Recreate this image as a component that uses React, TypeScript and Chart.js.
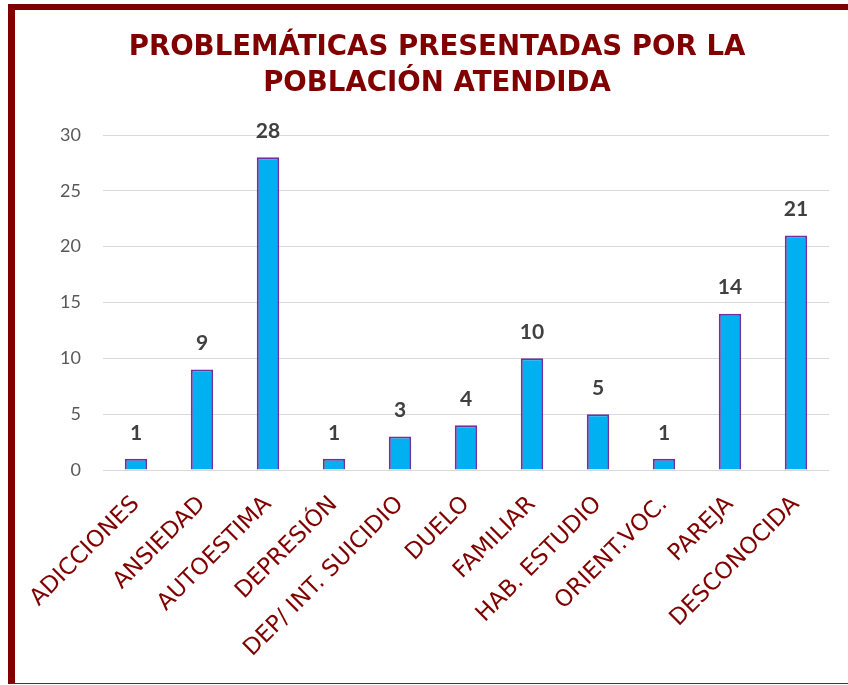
import React, { useEffect, useRef } from "react";
import { Chart, registerables } from "chart.js";

Chart.register(...registerables);

const TITLE_LINES = ["PROBLEMÁTICAS PRESENTADAS POR LA", "POBLACIÓN ATENDIDA"];
const CATEGORIES = [
  "ADICCIONES",
  "ANSIEDAD",
  "AUTOESTIMA",
  "DEPRESIÓN",
  "DEP/ INT. SUICIDIO",
  "DUELO",
  "FAMILIAR",
  "HAB. ESTUDIO",
  "ORIENT.VOC.",
  "PAREJA",
  "DESCONOCIDA",
];
const VALUES = [1, 9, 28, 1, 3, 4, 10, 5, 1, 14, 21];
const Y_MIN = 0;
const Y_MAX = 30;
const Y_STEP = 5;

const DARK_RED = "#800000";

const overlayPlugin = {
  id: "overlay",
  afterDraw(chart: any) {
    const ctx = chart.ctx;
    ctx.save();
    // title
    ctx.fillStyle = DARK_RED;
    ctx.textAlign = "center";
    ctx.textBaseline = "middle";
    ctx.font = "bold 27.6px 'DejaVu Sans'";
    ctx.fillText(TITLE_LINES[0], 437, 48);
    ctx.fillText(TITLE_LINES[1], 437, 84);
    // data labels
    const meta = chart.getDatasetMeta(0);
    ctx.fillStyle = "#404040";
    ctx.font = "bold 21px Lato";
    meta.data.forEach((bar: any, i: number) => {
      ctx.fillText(String(VALUES[i]), bar.x, bar.y - 26);
    });
    ctx.restore();
  },
};

export default function App() {
  const ref = useRef<HTMLCanvasElement | null>(null);
  useEffect(() => {
    if (!ref.current) return;
    const chart = new Chart(ref.current, {
      type: "bar",
      data: {
        labels: CATEGORIES,
        datasets: [
          {
            data: VALUES,
            backgroundColor: "#00B0F0",
            borderColor: "#7030A0",
            borderWidth: 2,
            categoryPercentage: 1,
            barPercentage: 0.34,
          },
        ],
      },
      options: {
        animation: false,
        responsive: false,
        devicePixelRatio: 1,
        layout: { padding: { left: 15, right: 19, top: 135, bottom: 5 } },
        plugins: {
          legend: { display: false },
          title: { display: false },
          tooltip: { enabled: false },
        },
        scales: {
          x: {
            grid: { display: false, drawTicks: false },
            border: { display: false },
            ticks: {
              color: DARK_RED,
              font: { family: "DejaVu Sans", size: 23 },
              minRotation: 45,
              maxRotation: 45,
              padding: 21,
              autoSkip: false,
            },
            afterFit(scale: any) {
              scale.height = 210;
            },
          },
          y: {
            min: Y_MIN,
            max: Y_MAX,
            grid: { color: "#D9D9D9", lineWidth: 1, drawTicks: false },
            border: { display: false },
            ticks: {
              stepSize: Y_STEP,
              color: "#595959",
              font: { family: "Lato", size: 18 },
              padding: 22,
            },
            afterFit(scale: any) {
              scale.width = 88;
            },
          },
        },
      },
      plugins: [overlayPlugin],
    });
    return () => chart.destroy();
  }, []);

  return (
    <div style={{ position: "absolute", left: 0, top: 0, width: 848, height: 685, overflow: "hidden", background: "#fff" }}>
      <canvas ref={ref} width={848} height={685} style={{ position: "absolute", left: 0, top: 0, width: 848, height: 685 }} />
      <div
        style={{
          position: "absolute",
          left: 8,
          top: 4,
          width: 840,
          height: 680,
          boxSizing: "border-box",
          borderLeft: `7px solid ${DARK_RED}`,
          borderTop: `6px solid ${DARK_RED}`,
          borderBottom: `1px solid #8B1A1A`,
          pointerEvents: "none",
        }}
      />
    </div>
  );
}
